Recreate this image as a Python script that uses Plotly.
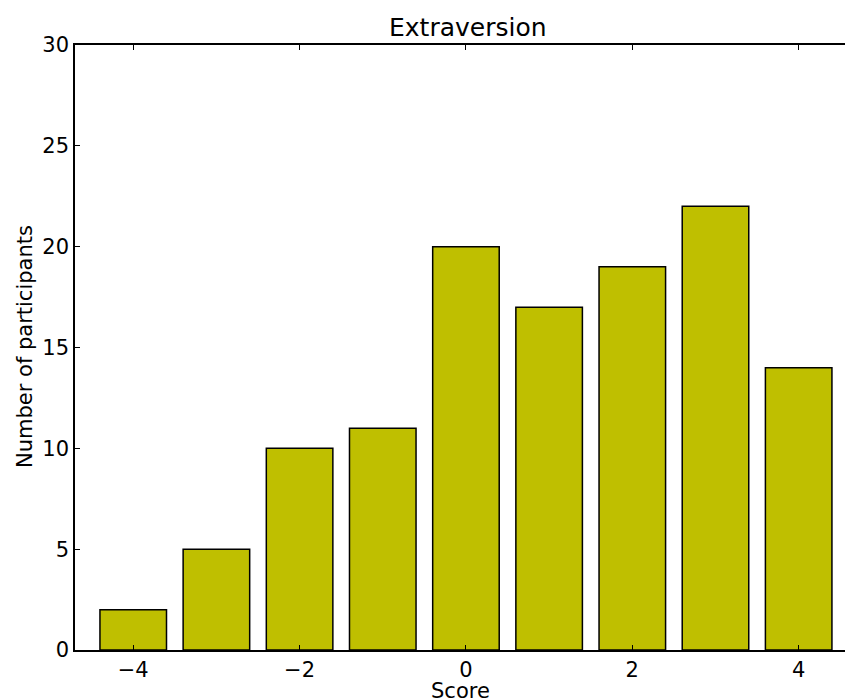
import plotly.graph_objects as go

scores = [-4, -3, -2, -1, 0, 1, 2, 3, 4]
counts = [2, 5, 10, 11, 20, 17, 19, 22, 14]
x_ticks = [-4, -2, 0, 2, 4]
x_tick_text = ["\u22124", "\u22122", "0", "2", "4"]
y_ticks = [0, 5, 10, 15, 20, 25, 30]

W, H = 845, 698
L, R, T, B = 75, 0, 45, 48

fig = go.Figure(go.Bar(
    x=scores, y=counts, width=0.8,
    marker=dict(color="#bfbf00", line=dict(color="black", width=1.5)),
))

font = dict(family="DejaVu Sans", size=21, color="black")
fig.update_layout(
    width=W, height=H,
    margin=dict(l=L, r=R, t=T, b=B),
    plot_bgcolor="white", paper_bgcolor="white",
    font=font, showlegend=False,
    xaxis=dict(range=[-4.7, 4.557], tickvals=x_ticks, ticktext=x_tick_text,
               ticks="inside", ticklen=5, tickwidth=1, tickcolor="black",
               showline=True, linecolor="black", linewidth=1.5, mirror="allticks",
               showgrid=False, zeroline=False, automargin=False, tickfont=font),
    yaxis=dict(range=[0, 30], tickvals=y_ticks,
               ticks="inside", ticklen=5, tickwidth=1, tickcolor="black",
               showline=True, linecolor="black", linewidth=1.5, mirror=False,
               showgrid=False, zeroline=False, automargin=False, tickfont=font),
    annotations=[
        dict(text="Extraversion", x=468, y=H - 27, xref="paper", yref="paper",
             showarrow=False, font=dict(family="DejaVu Sans", size=25, color="black"),
             xanchor="center", yanchor="middle"),
        dict(text="Score", x=460, y=H - 691, xref="paper", yref="paper",
             showarrow=False, font=font, xanchor="center", yanchor="middle"),
        dict(text="Number of participants", x=25, y=H - 347, xref="paper", yref="paper",
             showarrow=False, font=font, textangle=-90, xanchor="center", yanchor="middle"),
    ],
)
# convert pixel positions of annotations to paper coordinates
pw, ph = W - L - R, H - T - B
for a in fig.layout.annotations:
    a.x = (a.x - L) / pw
    a.y = (a.y - B) / ph
fig.write_html("out.html")
